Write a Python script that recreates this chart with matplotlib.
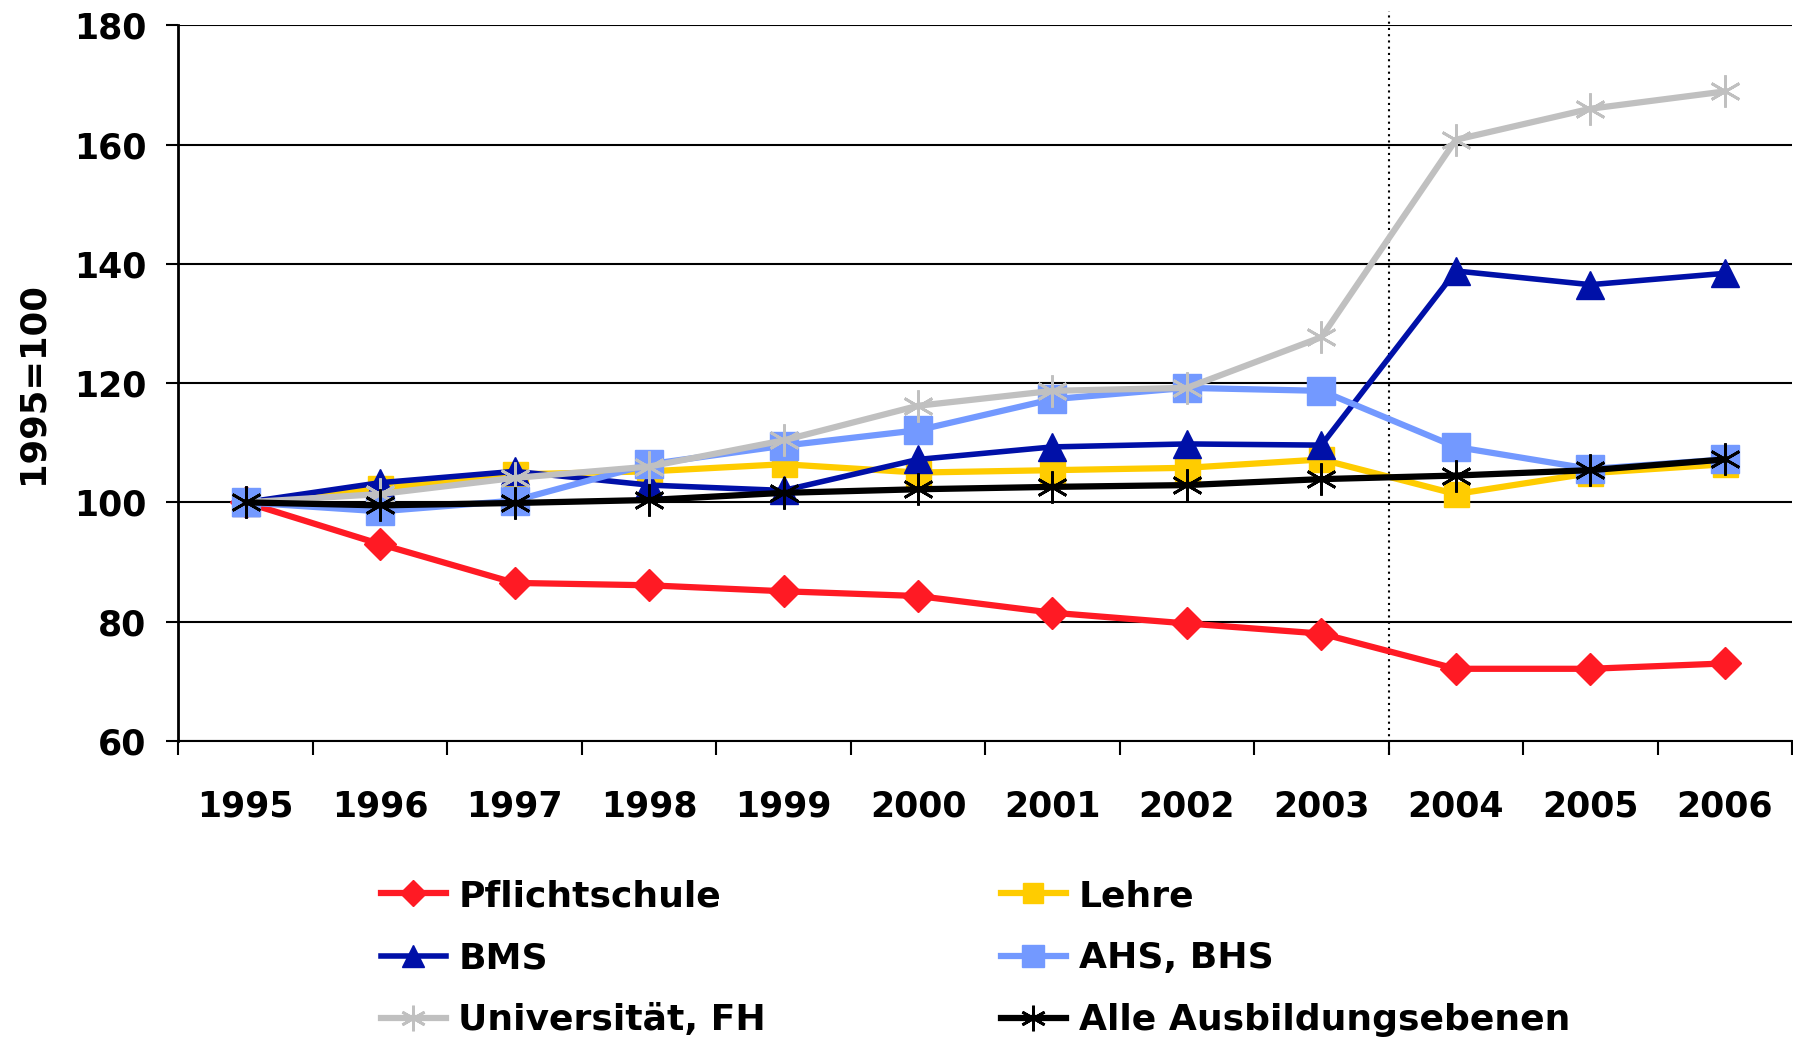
import matplotlib
matplotlib.use("Agg")
import matplotlib.pyplot as plt
from matplotlib.ticker import FixedLocator

years = [1995, 1996, 1997, 1998, 1999, 2000, 2001, 2002, 2003, 2004, 2005, 2006]
pflichtschule = [100, 93.0, 86.5, 86.1, 85.1, 84.3, 81.5, 79.7, 78.0, 72.1, 72.1, 73.0]
lehre = [100, 102.4, 104.7, 105.2, 106.4, 105.0, 105.4, 105.8, 107.2, 101.4, 104.9, 106.4]
bms = [100, 103.3, 105.2, 102.9, 102.0, 107.2, 109.3, 109.8, 109.6, 138.8, 136.5, 138.4]
ahs_bhs = [100, 98.5, 100.3, 106.4, 109.5, 112.1, 117.3, 119.2, 118.7, 109.3, 105.6, 107.2]
universitaet = [100, 101.4, 104.1, 106.0, 110.4, 116.2, 118.7, 119.2, 127.7, 160.8, 166.0, 168.9]
alle = [100, 99.5, 99.9, 100.4, 101.6, 102.2, 102.6, 102.9, 103.9, 104.5, 105.4, 107.2]
labels = ["Pflichtschule", "Lehre", "BMS", "AHS, BHS", "Universität, FH", "Alle Ausbildungsebenen"]
yticks = [60, 80, 100, 120, 140, 160, 180]
break_year = 2003.5

plt.rcParams['font.family'] = ['DejaVu Sans']
plt.rcParams['font.weight'] = 'bold'

fig = plt.figure(figsize=(17.93, 10.42), dpi=100)
ax = fig.add_axes([0.0995, 0.2889, 0.9995 - 0.0995, 0.9758 - 0.2889])

ast = (6, 2, 0)
series = [
    (pflichtschule, dict(color='#FF1A24', marker='D', ms=16, lw=4.5, mec='#FF1A24')),
    (lehre, dict(color='#FFCC00', marker='s', ms=18, lw=4.5, mec='#FFCC00')),
    (bms, dict(color='#0010A8', marker='^', ms=20, lw=4.0, mec='#0010A8')),
    (ahs_bhs, dict(color='#7399FF', marker='s', ms=20, lw=4.5, mec='#7399FF')),
    (universitaet, dict(color='#C0C0C0', marker=ast, ms=23, lw=4.5, mew=2, mec='#C0C0C0')),
    (alle, dict(color='#000000', marker=ast, ms=23, lw=4.5, mew=2, mec='#000000')),
]
handles = []
for (vals, kw), lab in zip(series, labels):
    h, = ax.plot(years, vals, label=lab, zorder=3, clip_on=False, **kw)
    handles.append(h)

ax.axvline(break_year, ymin=-0.02, ymax=1.02, color='black', lw=1.5, ls=(0, (1, 2)), clip_on=False, zorder=2)

ax.set_xlim(1994.5, 2006.5)
ax.set_ylim(60, 180)
ax.set_yticks(yticks)
ax.yaxis.grid(True, color='black', lw=1.5)
ax.set_axisbelow(True)
ax.set_xticks(years)
ax.set_xticklabels([str(y) for y in years])
ax.xaxis.set_minor_locator(FixedLocator([y - 0.5 for y in years] + [years[-1] + 0.5]))
ax.tick_params(axis='x', which='major', length=0, pad=35, labelsize=25)
ax.tick_params(axis='x', which='minor', length=10, width=1.5, direction='out')
ax.tick_params(axis='y', length=9, width=1.5, direction='out', pad=14, labelsize=25)
for lab in ax.get_xticklabels() + ax.get_yticklabels():
    lab.set_fontweight('bold')
for s in ['top', 'right']:
    ax.spines[s].set_visible(False)
ax.spines['left'].set_linewidth(2)
ax.spines['bottom'].set_linewidth(1.5)

fig.text(0.018, 0.2889 + (0.9758 - 0.2889) / 2, "1995=100", rotation=90, va='center', ha='center',
         fontsize=25.5, fontweight='bold')

order = [0, 2, 4, 1, 3, 5]
leg = fig.legend([handles[i] for i in order], [labels[i] for i in order], ncol=2,
                 loc='upper left', bbox_to_anchor=(0.2124, 0.1564), frameon=False,
                 fontsize=26, handlelength=1.8, handletextpad=0.35, columnspacing=6.5,
                 labelspacing=0.78, markerscale=0.8, borderpad=0, borderaxespad=0)
for t in leg.get_texts():
    t.set_fontweight('bold')

fig.savefig('out.png', dpi=100)
